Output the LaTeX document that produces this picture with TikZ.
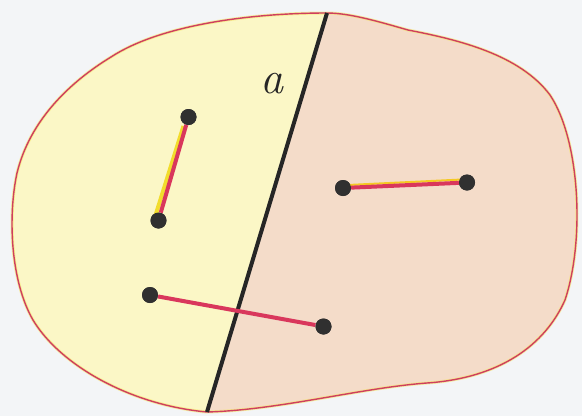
\documentclass[tikz,border=0pt]{standalone}
\usepackage{fontspec}
\usetikzlibrary{calc}
\definecolor{bg}{HTML}{F3F5F7}
\definecolor{lyellow}{HTML}{FBF7C6}
\definecolor{lpink}{HTML}{F4DCC9}
\definecolor{rim}{HTML}{CF3F5E}
\definecolor{segred}{HTML}{D9375C}
\definecolor{segyel}{HTML}{F2DC2C}
\definecolor{dotc}{HTML}{303030}
\tikzset{
  dot/.style={circle,fill=dotc,inner sep=0pt,minimum size=16pt},
  seg/.style={segred,line width=4pt},
  segglow/.style={segyel,line width=4pt},
  lineA/.style={black!85,line width=4pt},
}
\begin{document}
\begin{tikzpicture}[x=1pt,y=-1pt]
\useasboundingbox (0,0) rectangle (582,416);
\fill[bg] (0,0) rectangle (582,416);
\def\blob{(327,13) .. controls (250,13) and (160,25) .. (111,57)
  .. controls (70,82) and (30,120) .. (17,173)
  .. controls (8,215) and (10,280) .. (33,320)
  .. controls (60,365) and (130,405) .. (207,412)
  .. controls (280,410) and (360,388) .. (427,383)
  .. controls (500,378) and (545,345) .. (565,300)
  .. controls (585,240) and (580,140) .. (550,95)
  .. controls (520,55) and (460,40) .. (408,30)
  .. controls (380,22) and (350,13) .. (327,13) -- cycle}
\fill[lyellow] \blob;
\begin{scope}
  \clip \blob;
  \fill[lpink] (327,13) -- (333,-5) -- (600,-5) -- (600,430) -- (200,430) -- (207,412) -- cycle;
\end{scope}
\draw[segyel!70,line width=3pt,opacity=0.6] \blob;
\draw[rim,line width=1.4pt] \blob;
\coordinate (at) at (327,13);
\coordinate (ab) at (207,412);
\draw[lineA] (at) -- (ab);
\node[text=black!85] (la) at (272,84) {\fontsize{46}{50}\selectfont\itshape a};
\node[dot] (p1) at (188.5,117) {};
\node[dot] (p2) at (158.5,220.5) {};
\node[dot] (q1) at (343,188) {};
\node[dot] (q2) at (467,182.5) {};
\node[dot] (r1) at (150,295) {};
\node[dot] (r2) at (323.5,326.5) {};
\draw[segglow] ($(p1)+(-5,9)$) -- ($(p2)+(-4,-2)$);
\draw[seg] (p1) -- (p2);
\draw[segyel!80!orange,line width=2pt] ($(q1)+(5,-3)$) -- ($(q2)+(-5,-3)$);
\draw[seg] (q1) -- (q2);
\draw[seg] (r1) -- (r2);
\node[dot] at (p1) {};
\node[dot] at (p2) {};
\node[dot] at (q1) {};
\node[dot] at (q2) {};
\node[dot] at (r1) {};
\node[dot] at (r2) {};
\end{tikzpicture}
\end{document}
